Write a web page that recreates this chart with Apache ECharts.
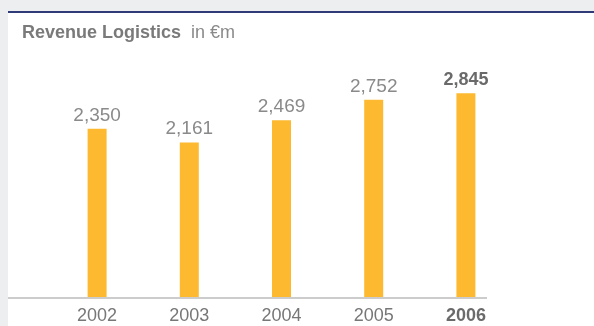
<!DOCTYPE html>
<html lang="en">
<head>
  <meta charset="utf-8">
  <title>Revenue Logistics</title>
  <script src="https://cdn.jsdelivr.net/npm/echarts@6/dist/echarts.min.js"></script>
  <style>
    html, body { margin: 0; padding: 0; background: #edeef0; }
    .box { width: 594px; height: 326px; }
  </style>
</head>
<body>
  <div class="box"></div>
  <script>
    // 数据
    var years = ['2002', '2003', '2004', '2005', '2006'];
    var revenue = [2350, 2161, 2469, 2752, 2845];

    var myChart = echarts.init(document.querySelector('.box'));

    var lastIdx = years.length - 1;

    var option = {
      backgroundColor: '#edeef0',
      animation: false,
      textStyle: { fontFamily: 'Liberation Sans, Arial, sans-serif' },
      graphic: [
        // white panel + navy top rule
        { type: 'rect', z: -10, shape: { x: 8, y: 11, width: 586, height: 315 }, style: { fill: '#ffffff' } },
        { type: 'rect', z: -9, shape: { x: 8, y: 11, width: 586, height: 2 }, style: { fill: '#2f3a78' } },
        // baseline
        { type: 'rect', z: 5, shape: { x: 8, y: 297, width: 479, height: 2 }, style: { fill: '#cccccc' } }
      ],
      title: {
        text: '{b|Revenue Logistics}  {n|in €m}',
        left: 17,
        top: 19,
        textStyle: {
          fontSize: 18,
          rich: {
            b: { fontSize: 18, fontWeight: 'bold', color: '#7a7a7a', fontFamily: 'Liberation Sans' },
            n: { fontSize: 18, fontWeight: 'normal', color: '#8a8a8a', fontFamily: 'Liberation Sans' }
          }
        }
      },
      grid: { left: 51, width: 461, top: 10, bottom: 28 },
      xAxis: {
        type: 'category',
        data: years,
        axisLine: { show: false },
        axisTick: { show: false },
        axisLabel: {
          margin: 9,
          fontSize: 18,
          color: '#777777',
          formatter: function (v, i) {
            return i === lastIdx ? '{b|' + v + '}' : v;
          },
          rich: { b: { fontSize: 18, fontWeight: 'bold', color: '#6a6a6a' } }
        }
      },
      yAxis: {
        type: 'value',
        min: 0,
        max: 4000,
        show: false,
        splitLine: { show: false }
      },
      series: [{
        type: 'bar',
        data: revenue,
        barWidth: 19,
        itemStyle: { color: '#fdba30' },
        label: {
          show: true,
          position: 'top',
          distance: 4,
          fontSize: 19,
          color: '#8a8a8a',
          formatter: function (p) {
            var s = p.value.toLocaleString('en-US');
            return p.dataIndex === lastIdx ? '{b|' + s + '}' : s;
          },
          rich: { b: { fontSize: 18, fontWeight: 'bold', color: '#6a6a6a' } }
        }
      }]
    };
    myChart.setOption(option);
  </script>
</body>
</html>
